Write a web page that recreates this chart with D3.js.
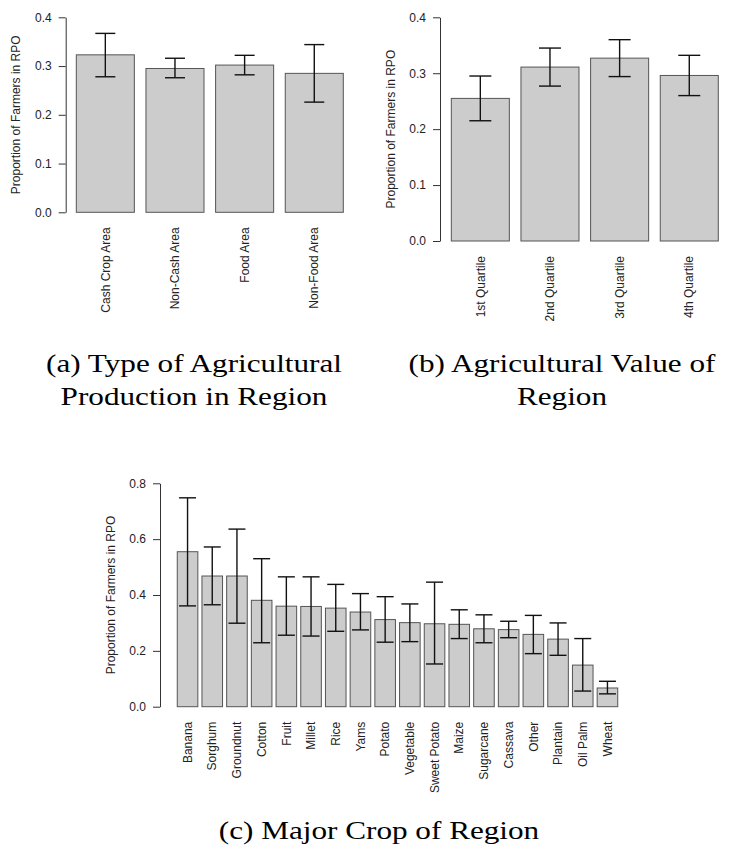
<!DOCTYPE html>
<html>
<head>
<meta charset="utf-8">
<script src="https://cdn.jsdelivr.net/npm/d3@7"></script>
<style>
  body { margin: 0; background: #fff; }
  svg { display: block; }
</style>
</head>
<body>
<svg id="fig" width="732" height="846"></svg>
<script>
// (a) type of agricultural production
const typeCats = ['Cash Crop Area', 'Non-Cash Area', 'Food Area', 'Non-Food Area'];
const typeMean = [0.323, 0.295, 0.302, 0.285];
const typeLow = [0.278, 0.276, 0.282, 0.226];
const typeHigh = [0.367, 0.316, 0.322, 0.344];

// (b) agricultural value quartiles
const valueCats = ['1st Quartile', '2nd Quartile', '3rd Quartile', '4th Quartile'];
const valueMean = [0.255, 0.311, 0.327, 0.296];
const valueLow = [0.215, 0.277, 0.294, 0.260];
const valueHigh = [0.295, 0.345, 0.360, 0.332];

// (c) major crop
const cropCats = ['Banana', 'Sorghum', 'Groundnut', 'Cotton', 'Fruit', 'Millet', 'Rice', 'Yams',
  'Potato', 'Vegetable', 'Sweet Potato', 'Maize', 'Sugarcane', 'Cassava', 'Other', 'Plantain',
  'Oil Palm', 'Wheat'];
const cropMean = [0.555, 0.468, 0.468, 0.381, 0.360, 0.359, 0.353, 0.339, 0.312, 0.301, 0.297,
  0.295, 0.279, 0.276, 0.259, 0.242, 0.149, 0.067];
const cropLow = [0.361, 0.365, 0.299, 0.229, 0.256, 0.253, 0.270, 0.275, 0.231, 0.233, 0.153,
  0.244, 0.229, 0.247, 0.190, 0.184, 0.056, 0.046];
const cropHigh = [0.748, 0.572, 0.636, 0.530, 0.465, 0.465, 0.438, 0.405, 0.394, 0.368, 0.446,
  0.347, 0.329, 0.306, 0.327, 0.300, 0.244, 0.091];

const smallTicks = [0, 0.1, 0.2, 0.3, 0.4];
const cropTicks = [0, 0.2, 0.4, 0.6, 0.8];

const yTitle = 'Proportion of Farmers in RPO';
const captions = [
  { lines: ['(a) Type of Agricultural', 'Production in Region'], x: 194 },
  { lines: ['(b) Agricultural Value of', 'Region'], x: 562 },
];
const captionC = '(c) Major Crop of Region';

const SANS = '"Liberation Sans", Arial, Helvetica, sans-serif';
const SERIF = '"Liberation Serif", "Times New Roman", serif';

const svg = d3.select('#fig');

function drawPanel(cfg) {
  const rows = cfg.cats.map((c, i) => ({
    cat: c, mean: cfg.mean[i], low: cfg.low[i], high: cfg.high[i],
  }));

  const x = d3.scaleBand()
    .domain(cfg.cats)
    .range([cfg.x0, cfg.x1])
    .paddingInner(0.2 / 1.2)
    .paddingOuter(0.1 / 1.2);
  const y = d3.scaleLinear().domain([0, cfg.yMax]).range([cfg.yBottom, cfg.yTop]);

  const g = svg.append('g');

  // bars
  g.selectAll('rect.bar')
    .data(rows)
    .enter()
    .append('rect')
    .attr('class', 'bar')
    .attr('x', (d) => x(d.cat))
    .attr('y', (d) => y(d.mean))
    .attr('width', x.bandwidth())
    .attr('height', (d) => y(0) - y(d.mean))
    .style('fill', '#cccccc')
    .style('stroke', '#555555')
    .style('stroke-width', 1);

  // error bars
  const err = g.selectAll('g.err').data(rows).enter().append('g')
    .attr('class', 'err')
    .attr('transform', (d) => `translate(${x(d.cat) + x.bandwidth() / 2},0)`)
    .style('stroke', '#111')
    .style('stroke-width', 1.4);
  err.append('line')
    .attr('x1', 0).attr('x2', 0)
    .attr('y1', (d) => y(d.low))
    .attr('y2', (d) => y(d.high));
  err.append('line')
    .attr('x1', -cfg.cap).attr('x2', cfg.cap)
    .attr('y1', (d) => y(d.high))
    .attr('y2', (d) => y(d.high));
  err.append('line')
    .attr('x1', -cfg.cap).attr('x2', cfg.cap)
    .attr('y1', (d) => y(d.low))
    .attr('y2', (d) => y(d.low));

  // y axis
  const axis = g.append('g')
    .attr('transform', `translate(${cfg.axisX},0)`)
    .call(d3.axisLeft(y).tickValues(cfg.ticks).tickFormat(d3.format('.1f'))
      .tickSize(7).tickSizeOuter(0).tickPadding(7));
  axis.select('.domain').style('stroke', '#333');
  axis.selectAll('.tick line').style('stroke', '#333');
  axis.selectAll('.tick text')
    .style('font-family', SANS)
    .style('font-size', '12px')
    .style('fill', '#222');

  // y title
  g.append('text')
    .attr('transform', `translate(${cfg.axisX - 49.5},${(cfg.yTop + cfg.yBottom) / 2}) rotate(-90)`)
    .attr('text-anchor', 'middle')
    .attr('dy', '0.35em')
    .style('font-family', SANS)
    .style('font-size', '12px')
    .style('fill', '#222')
    .text(yTitle);

  // category labels, rotated
  g.selectAll('text.cat')
    .data(rows)
    .enter()
    .append('text')
    .attr('class', 'cat')
    .attr('transform', (d) => `translate(${x(d.cat) + x.bandwidth() / 2},${cfg.yBottom + 15}) rotate(-90)`)
    .attr('text-anchor', 'end')
    .attr('dy', '0.35em')
    .style('font-family', SANS)
    .style('font-size', '12px')
    .style('fill', '#222')
    .text((d) => d.cat);
}

drawPanel({
  cats: typeCats, mean: typeMean, low: typeLow, high: typeHigh,
  x0: 70.5, x1: 349.1, yTop: 17.3, yBottom: 212.3, yMax: 0.4,
  axisX: 65.7, ticks: smallTicks, cap: 10,
});

drawPanel({
  cats: valueCats, mean: valueMean, low: valueLow, high: valueHigh,
  x0: 445.5, x1: 724.1, yTop: 17.3, yBottom: 241, yMax: 0.4,
  axisX: 440, ticks: smallTicks, cap: 11,
});

drawPanel({
  cats: cropCats, mean: cropMean, low: cropLow, high: cropHigh,
  x0: 175.2, x1: 619.8, yTop: 483.3, yBottom: 706.7, yMax: 0.8,
  axisX: 160, ticks: cropTicks, cap: 8.5,
});

// captions, serif, slightly widened to match the typeset look
function caption(text, cx, baseline) {
  svg.append('text')
    .attr('transform', `translate(${cx},${baseline}) scale(1.2,1)`)
    .attr('text-anchor', 'middle')
    .style('font-family', SERIF)
    .style('font-size', '26px')
    .style('fill', '#000')
    .text(text);
}

captions.forEach((c) => {
  caption(c.lines[0], c.x, 372);
  caption(c.lines[1], c.x, 405);
});
caption(captionC, 379, 839);
</script>
</body>
</html>
